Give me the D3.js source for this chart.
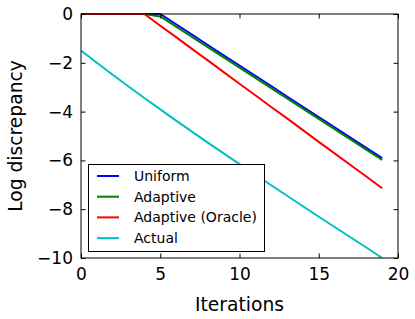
<!DOCTYPE html>
<html><head><meta charset="utf-8">
<script src="https://cdn.jsdelivr.net/npm/d3@7/dist/d3.min.js"></script>
<style>body{margin:0;background:#fff}svg{display:block}text{font-family:"DejaVu Sans",sans-serif}</style>
</head><body><svg id="c" width="415" height="319"></svg>
<script>
const iterations = d3.range(0, 20);
const uniform = [0,0,0,0,0,0,-0.42,-0.84,-1.27,-1.69,-2.11,-2.53,-2.95,-3.38,-3.80,-4.22,-4.64,-5.07,-5.49,-5.91];
const adaptive = [0,0,0,0,0,-0.1,-0.52,-0.94,-1.36,-1.78,-2.2,-2.62,-3.04,-3.46,-3.88,-4.30,-4.72,-5.14,-5.56,-5.98];
const oracle = [0,0,0,0,0,-0.48,-0.95,-1.43,-1.90,-2.38,-2.86,-3.33,-3.81,-4.28,-4.76,-5.24,-5.71,-6.19,-6.66,-7.14];
const actual = [-1.50,-2.00,-2.49,-2.97,-3.44,-3.91,-4.37,-4.82,-5.27,-5.71,-6.15,-6.59,-7.02,-7.45,-7.88,-8.31,-8.73,-9.15,-9.57,-10.0];
const seriesNames = ["Uniform","Adaptive","Adaptive (Oracle)","Actual"];
const seriesColors = ["#0000ff","#008000","#ff0000","#00bfbf"];
const xTicks = [0,5,10,15,20];
const yTicks = [0,-2,-4,-6,-8,-10];

const L=81, R=398, T=14, B=258;
const svg = d3.select("#c");
const x = d3.scaleLinear().domain([0,20]).range([L,R]);
const y = d3.scaleLinear().domain([-10,0]).range([B,T]);

svg.append("defs").append("clipPath").attr("id","clip").append("rect")
  .attr("x",L).attr("y",T-2).attr("width",R-L).attr("height",B-T+2);

const allSeries = [uniform, adaptive, oracle, actual];
const line = d3.line().x((d,i)=>x(iterations[i])).y(d=>y(d));
const g = svg.append("g").attr("clip-path","url(#clip)");
allSeries.forEach((s,k)=>{
  g.append("path").datum(s).attr("d",line).attr("fill","none")
   .attr("stroke",seriesColors[k]).attr("stroke-width",2);
});

// axes with inward ticks
const tl = 4.5;
const ax = svg.append("g");
ax.append("g").attr("transform",`translate(0,${B})`)
  .call(d3.axisBottom(x).tickValues(xTicks).tickSizeInner(-tl).tickSizeOuter(0).tickPadding(10).tickFormat(d3.format("d")));
ax.append("g").attr("transform",`translate(0,${T})`)
  .call(d3.axisTop(x).tickValues(xTicks).tickSizeInner(-tl).tickSizeOuter(0).tickFormat(""));
ax.append("g").attr("transform",`translate(${L},0)`)
  .call(d3.axisLeft(y).tickValues(yTicks).tickSizeInner(-tl).tickSizeOuter(0).tickPadding(8)
    .tickFormat(d=>d<0?"\u2212"+Math.abs(d):String(d)));
ax.append("g").attr("transform",`translate(${R},0)`)
  .call(d3.axisRight(y).tickValues(yTicks).tickSizeInner(-tl).tickSizeOuter(0).tickFormat(""));
ax.selectAll(".domain").remove();
ax.selectAll(".tick line").attr("stroke","#000");
ax.selectAll(".tick text").attr("font-size","17px").attr("fill","#000").attr("font-family","DejaVu Sans");

svg.append("rect").attr("x",L).attr("y",T).attr("width",R-L).attr("height",B-T)
  .attr("fill","none").attr("stroke","#000").attr("stroke-width",1);

// axis labels
svg.append("text").attr("x",(L+R)/2).attr("y",311).attr("text-anchor","middle")
  .attr("font-size","18.7px").text("Iterations");
svg.append("text").attr("transform",`translate(22,${(T+B)/2}) rotate(-90)`).attr("text-anchor","middle")
  .attr("font-size","18.7px").text("Log discrepancy");

// legend
const lg = svg.append("g");
lg.append("rect").attr("x",88.5).attr("y",164.5).attr("width",176).attr("height",87)
  .attr("fill","#fff").attr("stroke","#000").attr("stroke-width",1);
seriesNames.forEach((n,k)=>{
  const yy = 176 + k*20.7;
  lg.append("line").attr("x1",97).attr("x2",119).attr("y1",yy).attr("y2",yy)
    .attr("stroke",seriesColors[k]).attr("stroke-width",2);
  lg.append("text").attr("x",134).attr("y",yy).attr("dy","0.36em").attr("font-size","14px").text(n);
});
</script></body></html>
